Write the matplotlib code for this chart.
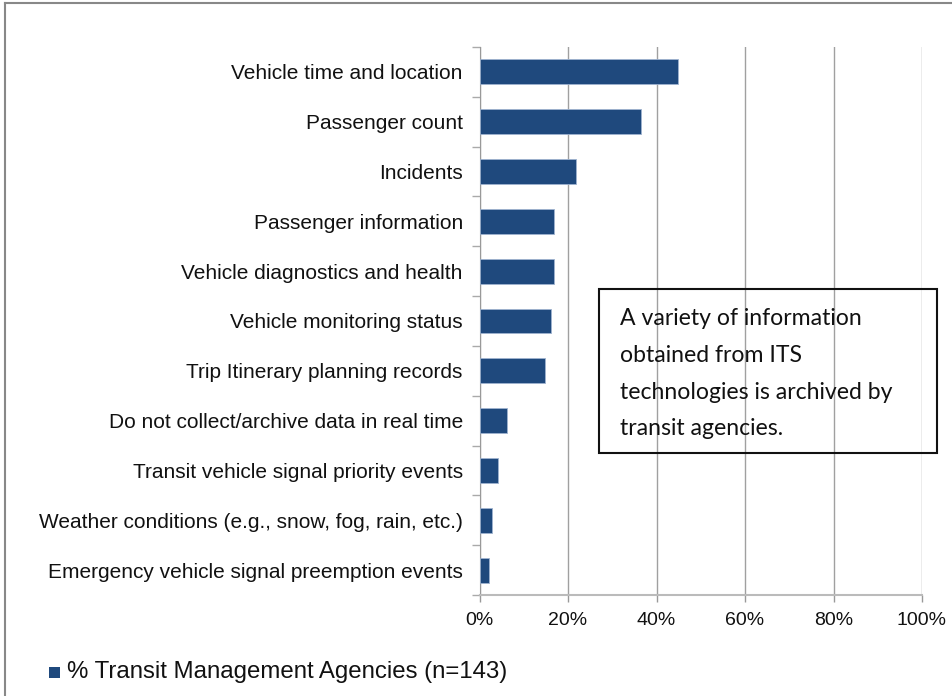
import matplotlib.pyplot as plt
from matplotlib.patches import Rectangle
from matplotlib.lines import Line2D

categories = [
    "Vehicle time and location",
    "Passenger count",
    "Incidents",
    "Passenger information",
    "Vehicle diagnostics and health",
    "Vehicle monitoring status",
    "Trip Itinerary planning records",
    "Do not collect/archive data in real time",
    "Transit vehicle signal priority events",
    "Weather conditions (e.g., snow, fog, rain, etc.)",
    "Emergency vehicle signal preemption events",
]
# share of agencies (n=143)
pct = [44.8, 36.4, 21.7, 16.8, 16.8, 16.1, 14.7, 6.3, 4.2, 2.8, 2.1]
xticks = [0, 20, 40, 60, 80, 100]
series_name = "% Transit Management Agencies (n=143)"
note = "A variety of information\nobtained from ITS\ntechnologies is archived by\ntransit agencies."

bar_color = "#1f497d"
W, H = 953, 696

plt.rcParams["font.family"] = ["Liberation Sans", "DejaVu Sans"]
fig = plt.figure(figsize=(W / 100, H / 100), dpi=100)

# plot area in pixel terms
left, right, top, bottom = 479.5, 922, 47, 595
ax = fig.add_axes([left / W, 1 - bottom / H, (right - left) / W, (bottom - top) / H])

y = list(range(len(categories)))
ax.barh(y, pct, height=0.5, color=bar_color, edgecolor="#9fb3d0", linewidth=0.6, zorder=3)
ax.set_ylim(len(categories) - 0.5, -0.5)
ax.set_xlim(0, 100)

ax.set_xticks(xticks)
ax.set_xticklabels([f"{t}%" for t in xticks], fontsize=14, color="#111111")
ax.set_yticks(y)
ax.set_yticklabels(categories, fontsize=15, color="#111111")
ax.tick_params(axis="y", length=0, pad=12)
ax.tick_params(axis="x", length=5, color="#999999", width=1, pad=7)

# minor ticks on the category boundaries
ax.set_yticks([i + 0.5 for i in range(-1, len(categories))], minor=True)
ax.tick_params(axis="y", which="minor", length=6, color="#aaaaaa", width=1)

ax.grid(axis="x", color="#a0a0a0", linewidth=1, zorder=0)
for s in ["top", "right"]:
    ax.spines[s].set_visible(False)
ax.spines["left"].set_color("#999999")
ax.spines["bottom"].set_color("#bbbbbb")
ax.spines["bottom"].set_linewidth(1.5)

# annotation box
fig.text(620 / W, 1 - 308 / H, note, fontsize=16.6, family=["Lato", "DejaVu Sans"],
         va="top", ha="left", linespacing=1.93, color="#111111")
fig.patches.append(Rectangle((599 / W, 1 - 453 / H), (937 - 599) / W, (453 - 289) / H,
                             transform=fig.transFigure, fill=False,
                             edgecolor="#111111", linewidth=1.5))

# legend
fig.patches.append(Rectangle((49 / W, 1 - 678 / H), 11 / W, 11 / H,
                             transform=fig.transFigure, facecolor=bar_color,
                             edgecolor="none"))
fig.text(67 / W, 1 - 672 / H, series_name, fontsize=17.3, va="center", ha="left",
         color="#111111")

# outer frame, top and left only
fig.lines.append(Line2D([4.5 / W, 4.5 / W], [0, 1 - 2.5 / H], transform=fig.transFigure,
                        color="#888888", linewidth=1.5))
fig.lines.append(Line2D([4.5 / W, 1], [1 - 2.5 / H, 1 - 2.5 / H], transform=fig.transFigure,
                        color="#888888", linewidth=1.5))

fig.savefig("out.png", dpi=100)
